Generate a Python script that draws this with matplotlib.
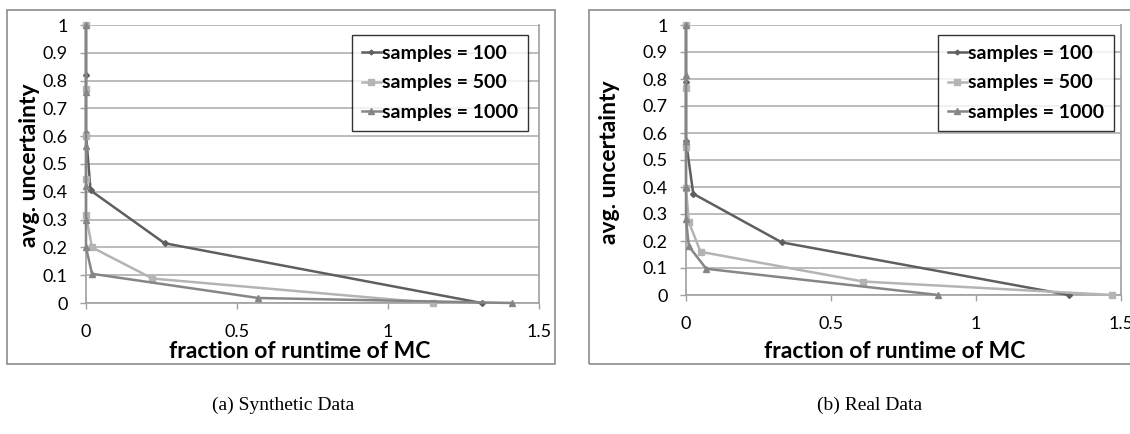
import matplotlib.pyplot as plt
from matplotlib.patches import Rectangle

# fraction of runtime of MC (x) vs avg. uncertainty (y)
syn_100_x = [0, 0, 0, 0.015, 0.26, 1.31]
syn_100_y = [1.0, 0.82, 0.61, 0.405, 0.215, 0.0]
syn_500_x = [0, 0, 0, 0, 0, 0.02, 0.22, 1.15]
syn_500_y = [1.0, 0.77, 0.60, 0.445, 0.315, 0.20, 0.088, 0.0]
syn_1000_x = [0, 0, 0, 0, 0, 0, 0.02, 0.57, 1.41]
syn_1000_y = [1.0, 0.76, 0.565, 0.42, 0.30, 0.20, 0.105, 0.018, 0.0]

real_100_x = [0, 0, 0, 0.025, 0.33, 1.32]
real_100_y = [1.0, 0.79, 0.57, 0.375, 0.195, 0.0]
real_500_x = [0, 0, 0, 0, 0.01, 0.05, 0.61, 1.47]
real_500_y = [1.0, 0.765, 0.55, 0.395, 0.27, 0.16, 0.05, 0.0]
real_1000_x = [0, 0, 0, 0, 0, 0.01, 0.07, 0.87]
real_1000_y = [1.0, 0.815, 0.57, 0.40, 0.28, 0.18, 0.097, 0.0]

labels = ["samples = 100", "samples = 500", "samples = 1000"]
x_ticks = [0, 0.5, 1, 1.5]
x_tick_labels = ["0", "0.5", "1", "1.5"]
y_ticks = [0, 0.1, 0.2, 0.3, 0.4, 0.5, 0.6, 0.7, 0.8, 0.9, 1]
y_tick_labels = ["0", "0.1", "0.2", "0.3", "0.4", "0.5", "0.6", "0.7", "0.8", "0.9", "1"]

colors = ["#5f5f5f", "#b4b4b4", "#868686"]
markers = ["D", "s", "^"]
msizes = [3, 5, 5]

W, H = 1130, 434
plt.rcParams['font.family'] = ['Lato', 'DejaVu Sans']
fig = plt.figure(figsize=(W / 100, H / 100), dpi=100)


def fx(px):
    return px / W


def fy(py):
    return 1 - py / H


# outer chart borders
for x0, x1 in [(7, 555), (589, 1140)]:
    fig.patches.append(Rectangle((fx(x0), fy(364)), fx(x1 - x0), (364 - 10) / H,
                                 transform=fig.transFigure, fill=False,
                                 edgecolor="#8c8c8c", linewidth=1.2))


def draw_panel(rect, series, legend_anchor, ylab_pos, xlab_pos):
    ax = fig.add_axes(rect)
    for i, (xs, ys) in enumerate(series):
        ax.plot(xs, ys, color=colors[i], marker=markers[i], markersize=msizes[i],
                linewidth=1.8, label=labels[i], clip_on=False, zorder=3)
    ax.set_xlim(0, 1.5)
    ax.set_ylim(0, 1)
    ax.set_xticks(x_ticks)
    ax.set_xticklabels(x_tick_labels)
    ax.set_yticks(y_ticks)
    ax.set_yticklabels(y_tick_labels)
    ax.yaxis.grid(True, color="#b0b0b0", linewidth=1.2)
    ax.set_axisbelow(True)
    ax.spines["top"].set_visible(False)
    for s in ["left", "bottom", "right"]:
        ax.spines[s].set_color("#a0a0a0")
        ax.spines[s].set_linewidth(1.2)
    ax.tick_params(axis="both", colors="#a0a0a0", labelcolor="black", labelsize=13,
                   length=4, width=1)
    ax.tick_params(axis="x", pad=11)
    ax.tick_params(axis="y", pad=9)
    ax.set_xlabel("fraction of runtime of MC", fontsize=16.5, fontweight="bold")
    ax.set_ylabel("avg. uncertainty", fontsize=16.5, fontweight="bold")
    ax.yaxis.set_label_coords(fx(ylab_pos[0]), fy(ylab_pos[1]), transform=fig.transFigure)
    ax.xaxis.set_label_coords(fx(xlab_pos[0]), fy(xlab_pos[1]), transform=fig.transFigure)
    ax.yaxis.label.set_va("center")
    ax.xaxis.label.set_va("center")
    leg = ax.legend(loc="upper left", bbox_to_anchor=legend_anchor,
                    prop={"weight": "bold", "size": 14}, frameon=True, fancybox=False,
                    handlelength=1.0, handletextpad=0.05, borderpad=0.5, labelspacing=0.65,
                    markerscale=0.8, borderaxespad=0)
    leg.get_frame().set_edgecolor("black")
    leg.get_frame().set_linewidth(1.0)
    return ax


ax1 = draw_panel([fx(86), fy(303), fx(539 - 86), (303 - 25) / H],
                 [(syn_100_x, syn_100_y), (syn_500_x, syn_500_y), (syn_1000_x, syn_1000_y)],
                 (0.587, 0.964), (30, 165), (300, 352))
ax2 = draw_panel([fx(686), fy(295), fx(1121 - 686), (295 - 25) / H],
                 [(real_100_x, real_100_y), (real_500_x, real_500_y), (real_1000_x, real_1000_y)],
                 (0.579, 0.963), (610, 162), (895, 352))

fig.text(fx(283), fy(405), "(a) Synthetic Data", ha="center", va="center",
         fontsize=14, family=["Liberation Serif", "DejaVu Serif"])
fig.text(fx(870), fy(405), "(b) Real Data", ha="center", va="center",
         fontsize=14, family=["Liberation Serif", "DejaVu Serif"])

fig.savefig("out.png", dpi=100)
